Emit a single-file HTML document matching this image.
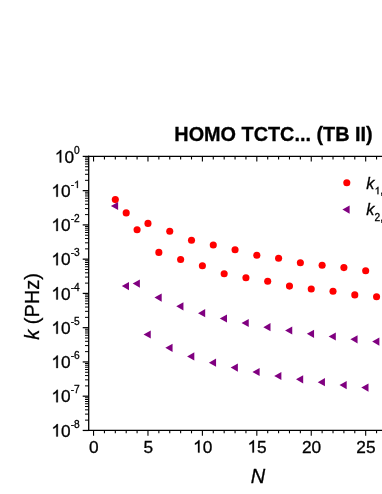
<!DOCTYPE html><html><head><meta charset="utf-8"><style>html,body{margin:0;padding:0;background:#fff}body{width:382px;height:494px;overflow:hidden}svg{display:block;will-change:transform}text{font-family:"Liberation Sans",sans-serif;fill:#000;stroke:#000;stroke-width:0.3px}</style></head><body>
<svg width="382" height="494" viewBox="0 0 382 494">
<rect width="382" height="494" fill="#fff"/>
<g stroke="#000" stroke-width="1.3" fill="none" stroke-linecap="butt">
<path d="M88.7 155.75 V431.09999999999997"/>
<path d="M88.05 156.4 H382"/>
<path d="M88.05 430.45 H382"/>
</g>
<g stroke="#000" stroke-width="1.1" fill="none">
<path d="M88.7 156.40 H82.7" stroke-width="1.25"/>
<path d="M88.7 180.34 H85.0" stroke-width="1.0"/>
<path d="M88.7 174.31 H85.0" stroke-width="1.0"/>
<path d="M88.7 170.03 H85.0" stroke-width="1.0"/>
<path d="M88.7 166.71 H85.0" stroke-width="1.0"/>
<path d="M88.7 164.00 H85.0" stroke-width="1.0"/>
<path d="M88.7 161.71 H85.0" stroke-width="1.0"/>
<path d="M88.7 159.72 H85.0" stroke-width="1.0"/>
<path d="M88.7 157.97 H85.0" stroke-width="1.0"/>
<path d="M88.7 190.66 H82.7" stroke-width="1.25"/>
<path d="M88.7 214.60 H85.0" stroke-width="1.0"/>
<path d="M88.7 208.57 H85.0" stroke-width="1.0"/>
<path d="M88.7 204.29 H85.0" stroke-width="1.0"/>
<path d="M88.7 200.97 H85.0" stroke-width="1.0"/>
<path d="M88.7 198.26 H85.0" stroke-width="1.0"/>
<path d="M88.7 195.96 H85.0" stroke-width="1.0"/>
<path d="M88.7 193.98 H85.0" stroke-width="1.0"/>
<path d="M88.7 192.22 H85.0" stroke-width="1.0"/>
<path d="M88.7 224.91 H82.7" stroke-width="1.25"/>
<path d="M88.7 248.86 H85.0" stroke-width="1.0"/>
<path d="M88.7 242.82 H85.0" stroke-width="1.0"/>
<path d="M88.7 238.54 H85.0" stroke-width="1.0"/>
<path d="M88.7 235.22 H85.0" stroke-width="1.0"/>
<path d="M88.7 232.51 H85.0" stroke-width="1.0"/>
<path d="M88.7 230.22 H85.0" stroke-width="1.0"/>
<path d="M88.7 228.23 H85.0" stroke-width="1.0"/>
<path d="M88.7 226.48 H85.0" stroke-width="1.0"/>
<path d="M88.7 259.17 H82.7" stroke-width="1.25"/>
<path d="M88.7 283.11 H85.0" stroke-width="1.0"/>
<path d="M88.7 277.08 H85.0" stroke-width="1.0"/>
<path d="M88.7 272.80 H85.0" stroke-width="1.0"/>
<path d="M88.7 269.48 H85.0" stroke-width="1.0"/>
<path d="M88.7 266.77 H85.0" stroke-width="1.0"/>
<path d="M88.7 264.48 H85.0" stroke-width="1.0"/>
<path d="M88.7 262.49 H85.0" stroke-width="1.0"/>
<path d="M88.7 260.74 H85.0" stroke-width="1.0"/>
<path d="M88.7 293.42 H82.7" stroke-width="1.25"/>
<path d="M88.7 317.37 H85.0" stroke-width="1.0"/>
<path d="M88.7 311.34 H85.0" stroke-width="1.0"/>
<path d="M88.7 307.06 H85.0" stroke-width="1.0"/>
<path d="M88.7 303.74 H85.0" stroke-width="1.0"/>
<path d="M88.7 301.02 H85.0" stroke-width="1.0"/>
<path d="M88.7 298.73 H85.0" stroke-width="1.0"/>
<path d="M88.7 296.74 H85.0" stroke-width="1.0"/>
<path d="M88.7 294.99 H85.0" stroke-width="1.0"/>
<path d="M88.7 327.68 H82.7" stroke-width="1.25"/>
<path d="M88.7 351.63 H85.0" stroke-width="1.0"/>
<path d="M88.7 345.59 H85.0" stroke-width="1.0"/>
<path d="M88.7 341.31 H85.0" stroke-width="1.0"/>
<path d="M88.7 337.99 H85.0" stroke-width="1.0"/>
<path d="M88.7 335.28 H85.0" stroke-width="1.0"/>
<path d="M88.7 332.99 H85.0" stroke-width="1.0"/>
<path d="M88.7 331.00 H85.0" stroke-width="1.0"/>
<path d="M88.7 329.25 H85.0" stroke-width="1.0"/>
<path d="M88.7 361.94 H82.7" stroke-width="1.25"/>
<path d="M88.7 385.88 H85.0" stroke-width="1.0"/>
<path d="M88.7 379.85 H85.0" stroke-width="1.0"/>
<path d="M88.7 375.57 H85.0" stroke-width="1.0"/>
<path d="M88.7 372.25 H85.0" stroke-width="1.0"/>
<path d="M88.7 369.54 H85.0" stroke-width="1.0"/>
<path d="M88.7 367.24 H85.0" stroke-width="1.0"/>
<path d="M88.7 365.26 H85.0" stroke-width="1.0"/>
<path d="M88.7 363.50 H85.0" stroke-width="1.0"/>
<path d="M88.7 396.19 H82.7" stroke-width="1.25"/>
<path d="M88.7 420.14 H85.0" stroke-width="1.0"/>
<path d="M88.7 414.11 H85.0" stroke-width="1.0"/>
<path d="M88.7 409.83 H85.0" stroke-width="1.0"/>
<path d="M88.7 406.51 H85.0" stroke-width="1.0"/>
<path d="M88.7 403.79 H85.0" stroke-width="1.0"/>
<path d="M88.7 401.50 H85.0" stroke-width="1.0"/>
<path d="M88.7 399.51 H85.0" stroke-width="1.0"/>
<path d="M88.7 397.76 H85.0" stroke-width="1.0"/>
<path d="M88.7 430.45 H82.7" stroke-width="1.25"/>
<path d="M93.55 156.4 V161.6"/>
<path d="M93.55 430.45 V435.65"/>
<path d="M104.44 156.4 V159.5"/>
<path d="M104.44 430.45 V433.34999999999997"/>
<path d="M115.32 156.4 V159.5"/>
<path d="M115.32 430.45 V433.34999999999997"/>
<path d="M126.20 156.4 V159.5"/>
<path d="M126.20 430.45 V433.34999999999997"/>
<path d="M137.09 156.4 V159.5"/>
<path d="M137.09 430.45 V433.34999999999997"/>
<path d="M147.97 156.4 V161.6"/>
<path d="M147.97 430.45 V435.65"/>
<path d="M158.86 156.4 V159.5"/>
<path d="M158.86 430.45 V433.34999999999997"/>
<path d="M169.75 156.4 V159.5"/>
<path d="M169.75 430.45 V433.34999999999997"/>
<path d="M180.63 156.4 V159.5"/>
<path d="M180.63 430.45 V433.34999999999997"/>
<path d="M191.51 156.4 V159.5"/>
<path d="M191.51 430.45 V433.34999999999997"/>
<path d="M202.40 156.4 V161.6"/>
<path d="M202.40 430.45 V435.65"/>
<path d="M213.28 156.4 V159.5"/>
<path d="M213.28 430.45 V433.34999999999997"/>
<path d="M224.17 156.4 V159.5"/>
<path d="M224.17 430.45 V433.34999999999997"/>
<path d="M235.06 156.4 V159.5"/>
<path d="M235.06 430.45 V433.34999999999997"/>
<path d="M245.94 156.4 V159.5"/>
<path d="M245.94 430.45 V433.34999999999997"/>
<path d="M256.82 156.4 V161.6"/>
<path d="M256.82 430.45 V435.65"/>
<path d="M267.71 156.4 V159.5"/>
<path d="M267.71 430.45 V433.34999999999997"/>
<path d="M278.59 156.4 V159.5"/>
<path d="M278.59 430.45 V433.34999999999997"/>
<path d="M289.48 156.4 V159.5"/>
<path d="M289.48 430.45 V433.34999999999997"/>
<path d="M300.37 156.4 V159.5"/>
<path d="M300.37 430.45 V433.34999999999997"/>
<path d="M311.25 156.4 V161.6"/>
<path d="M311.25 430.45 V435.65"/>
<path d="M322.13 156.4 V159.5"/>
<path d="M322.13 430.45 V433.34999999999997"/>
<path d="M333.02 156.4 V159.5"/>
<path d="M333.02 430.45 V433.34999999999997"/>
<path d="M343.90 156.4 V159.5"/>
<path d="M343.90 430.45 V433.34999999999997"/>
<path d="M354.79 156.4 V159.5"/>
<path d="M354.79 430.45 V433.34999999999997"/>
<path d="M365.68 156.4 V161.6"/>
<path d="M365.68 430.45 V435.65"/>
<path d="M376.56 156.4 V159.5"/>
<path d="M376.56 430.45 V433.34999999999997"/>
</g>
<path d="M763 0H583V1147Q518 1085 412.5 1023T223 930V1104Q374 1175 487 1276T647 1472H763Z" transform="translate(54.79 162.50) scale(0.00845 -0.00845)" fill="#000" stroke="#000" stroke-width="35.5"/><text x="64.41" y="162.50" font-size="17.3">0</text>
<text x="74.03" y="153.70" font-size="10.2">0</text>
<path d="M763 0H583V1147Q518 1085 412.5 1023T223 930V1104Q374 1175 487 1276T647 1472H763Z" transform="translate(51.39 196.76) scale(0.00845 -0.00845)" fill="#000" stroke="#000" stroke-width="35.5"/><text x="61.01" y="196.76" font-size="17.3">0</text>
<text x="70.63" y="187.96" font-size="10.2">-</text><path d="M763 0H583V1147Q518 1085 412.5 1023T223 930V1104Q374 1175 487 1276T647 1472H763Z" transform="translate(74.03 187.96) scale(0.00498 -0.00498)" fill="#000" stroke="#000" stroke-width="60.2"/>
<path d="M763 0H583V1147Q518 1085 412.5 1023T223 930V1104Q374 1175 487 1276T647 1472H763Z" transform="translate(51.39 231.01) scale(0.00845 -0.00845)" fill="#000" stroke="#000" stroke-width="35.5"/><text x="61.01" y="231.01" font-size="17.3">0</text>
<text x="70.63" y="222.21" font-size="10.2">-2</text>
<path d="M763 0H583V1147Q518 1085 412.5 1023T223 930V1104Q374 1175 487 1276T647 1472H763Z" transform="translate(51.39 265.27) scale(0.00845 -0.00845)" fill="#000" stroke="#000" stroke-width="35.5"/><text x="61.01" y="265.27" font-size="17.3">0</text>
<text x="70.63" y="256.47" font-size="10.2">-3</text>
<path d="M763 0H583V1147Q518 1085 412.5 1023T223 930V1104Q374 1175 487 1276T647 1472H763Z" transform="translate(51.39 299.52) scale(0.00845 -0.00845)" fill="#000" stroke="#000" stroke-width="35.5"/><text x="61.01" y="299.52" font-size="17.3">0</text>
<text x="70.63" y="290.72" font-size="10.2">-4</text>
<path d="M763 0H583V1147Q518 1085 412.5 1023T223 930V1104Q374 1175 487 1276T647 1472H763Z" transform="translate(51.39 333.78) scale(0.00845 -0.00845)" fill="#000" stroke="#000" stroke-width="35.5"/><text x="61.01" y="333.78" font-size="17.3">0</text>
<text x="70.63" y="324.98" font-size="10.2">-5</text>
<path d="M763 0H583V1147Q518 1085 412.5 1023T223 930V1104Q374 1175 487 1276T647 1472H763Z" transform="translate(51.39 368.04) scale(0.00845 -0.00845)" fill="#000" stroke="#000" stroke-width="35.5"/><text x="61.01" y="368.04" font-size="17.3">0</text>
<text x="70.63" y="359.24" font-size="10.2">-6</text>
<path d="M763 0H583V1147Q518 1085 412.5 1023T223 930V1104Q374 1175 487 1276T647 1472H763Z" transform="translate(51.39 402.29) scale(0.00845 -0.00845)" fill="#000" stroke="#000" stroke-width="35.5"/><text x="61.01" y="402.29" font-size="17.3">0</text>
<text x="70.63" y="393.49" font-size="10.2">-7</text>
<path d="M763 0H583V1147Q518 1085 412.5 1023T223 930V1104Q374 1175 487 1276T647 1472H763Z" transform="translate(51.39 436.55) scale(0.00845 -0.00845)" fill="#000" stroke="#000" stroke-width="35.5"/><text x="61.01" y="436.55" font-size="17.3">0</text>
<text x="70.63" y="427.75" font-size="10.2">-8</text>
<text x="89.04" y="452.60" font-size="17.3">0</text>
<text x="143.47" y="452.60" font-size="17.3">5</text>
<path d="M763 0H583V1147Q518 1085 412.5 1023T223 930V1104Q374 1175 487 1276T647 1472H763Z" transform="translate(193.08 452.60) scale(0.00845 -0.00845)" fill="#000" stroke="#000" stroke-width="35.5"/><text x="202.70" y="452.60" font-size="17.3">0</text>
<path d="M763 0H583V1147Q518 1085 412.5 1023T223 930V1104Q374 1175 487 1276T647 1472H763Z" transform="translate(247.51 452.60) scale(0.00845 -0.00845)" fill="#000" stroke="#000" stroke-width="35.5"/><text x="257.12" y="452.60" font-size="17.3">5</text>
<text x="301.93" y="452.60" font-size="17.3">20</text>
<text x="356.36" y="452.60" font-size="17.3">25</text>
<text x="174.3" y="141.2" font-size="19.85" font-weight="bold" stroke="none">HOMO TCTC... (TB II)</text>
<text x="258.1" y="483" font-size="20" font-style="italic" text-anchor="middle">N</text>
<text transform="translate(39.1 339.8) rotate(-90)" font-size="20"><tspan font-style="italic">k</tspan> (PHz)</text>
<g fill="#ff0000">
<circle cx="115.32" cy="199.6" r="3.55"/>
<circle cx="126.20" cy="212.9" r="3.55"/>
<circle cx="137.09" cy="229.8" r="3.55"/>
<circle cx="147.97" cy="223.4" r="3.55"/>
<circle cx="158.86" cy="252.4" r="3.55"/>
<circle cx="169.75" cy="231.2" r="3.55"/>
<circle cx="180.63" cy="259.5" r="3.55"/>
<circle cx="191.51" cy="240.2" r="3.55"/>
<circle cx="202.40" cy="265.7" r="3.55"/>
<circle cx="213.28" cy="245.0" r="3.55"/>
<circle cx="224.17" cy="273.8" r="3.55"/>
<circle cx="235.06" cy="249.8" r="3.55"/>
<circle cx="245.94" cy="277.7" r="3.55"/>
<circle cx="256.82" cy="255.3" r="3.55"/>
<circle cx="267.71" cy="281.3" r="3.55"/>
<circle cx="278.59" cy="258.3" r="3.55"/>
<circle cx="289.48" cy="286.1" r="3.55"/>
<circle cx="300.37" cy="262.7" r="3.55"/>
<circle cx="311.25" cy="289.0" r="3.55"/>
<circle cx="322.13" cy="265.3" r="3.55"/>
<circle cx="333.02" cy="291.3" r="3.55"/>
<circle cx="343.90" cy="267.6" r="3.55"/>
<circle cx="354.79" cy="294.9" r="3.55"/>
<circle cx="365.68" cy="270.8" r="3.55"/>
<circle cx="376.56" cy="296.8" r="3.55"/>
<circle cx="346.8" cy="182.8" r="3.55"/>
</g>
<g fill="#800080">
<path d="M110.92 206.00 L118.12 201.90 V210.10 Z"/>
<path d="M121.80 286.10 L129.00 282.00 V290.20 Z"/>
<path d="M132.69 283.60 L139.89 279.50 V287.70 Z"/>
<path d="M143.57 334.50 L150.78 330.40 V338.60 Z"/>
<path d="M154.46 297.60 L161.66 293.50 V301.70 Z"/>
<path d="M165.34 347.80 L172.55 343.70 V351.90 Z"/>
<path d="M176.23 306.30 L183.43 302.20 V310.40 Z"/>
<path d="M187.11 356.40 L194.31 352.30 V360.50 Z"/>
<path d="M198.00 313.20 L205.20 309.10 V317.30 Z"/>
<path d="M208.88 362.70 L216.09 358.60 V366.80 Z"/>
<path d="M219.77 318.50 L226.97 314.40 V322.60 Z"/>
<path d="M230.66 367.60 L237.86 363.50 V371.70 Z"/>
<path d="M241.54 323.00 L248.74 318.90 V327.10 Z"/>
<path d="M252.42 372.00 L259.62 367.90 V376.10 Z"/>
<path d="M263.31 327.20 L270.51 323.10 V331.30 Z"/>
<path d="M274.19 376.00 L281.39 371.90 V380.10 Z"/>
<path d="M285.08 330.50 L292.28 326.40 V334.60 Z"/>
<path d="M295.97 379.30 L303.17 375.20 V383.40 Z"/>
<path d="M306.85 333.80 L314.05 329.70 V337.90 Z"/>
<path d="M317.74 382.20 L324.94 378.10 V386.30 Z"/>
<path d="M328.62 336.50 L335.82 332.40 V340.60 Z"/>
<path d="M339.50 385.10 L346.70 381.00 V389.20 Z"/>
<path d="M350.39 339.30 L357.59 335.20 V343.40 Z"/>
<path d="M361.28 387.60 L368.48 383.50 V391.70 Z"/>
<path d="M372.16 341.60 L379.36 337.50 V345.70 Z"/>
<path d="M342.40 209.60 L349.60 205.50 V213.70 Z"/>
</g>
<text x="366.2" y="188.7" font-size="16.3" font-style="italic">k</text>
<path d="M763 0H583V1147Q518 1085 412.5 1023T223 930V1104Q374 1175 487 1276T647 1472H763Z" transform="translate(374.60 194.20) scale(0.00498 -0.00498)" fill="#000" stroke="#000" stroke-width="60.2"/><text x="380.27" y="194.20" font-size="10.2">,</text>
<text x="366.2" y="215.4" font-size="16.3" font-style="italic">k</text>
<text x="374.6" y="220.9" font-size="10.2">2,</text>
</svg></body></html>
